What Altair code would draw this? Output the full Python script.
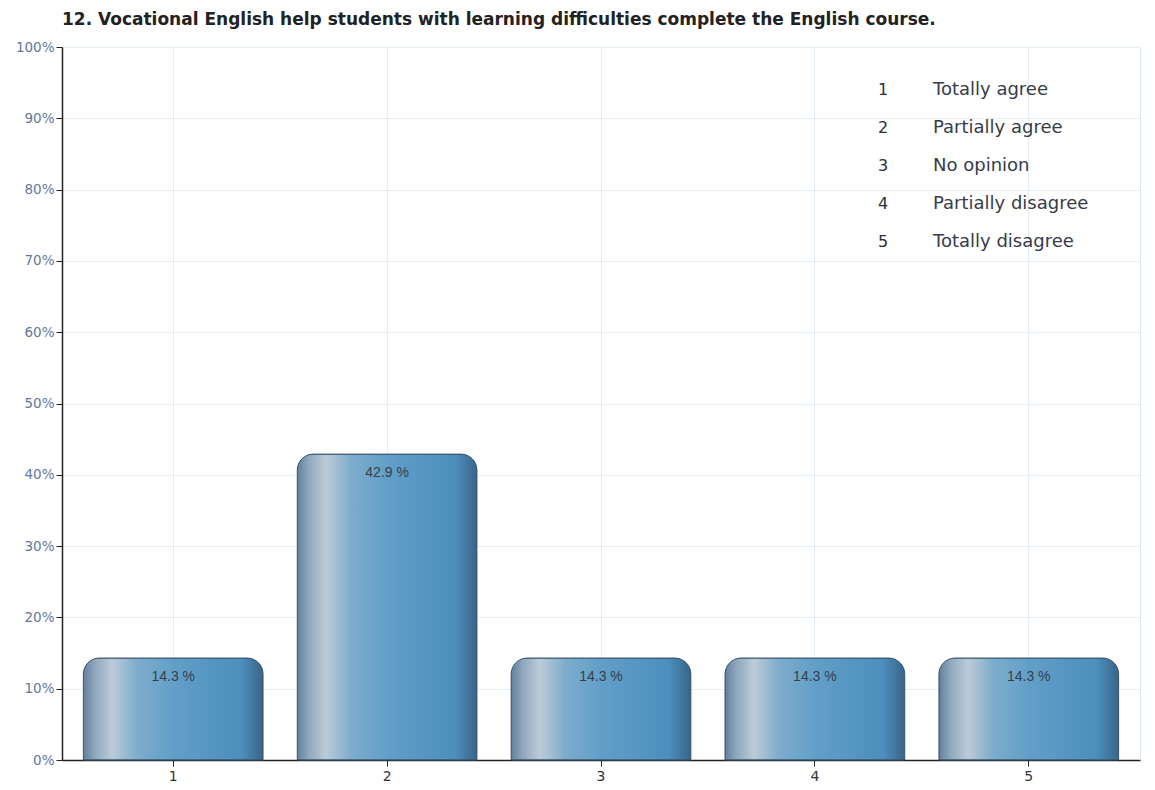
import altair as alt
import pandas as pd

categories = ["1", "2", "3", "4", "5"]
values = [0.143, 0.429, 0.143, 0.143, 0.143]
value_labels = ["14.3 %", "42.9 %", "14.3 %", "14.3 %", "14.3 %"]
legend_codes = ["1", "2", "3", "4", "5"]
legend_texts = ["Totally agree", "Partially agree", "No opinion", "Partially disagree", "Totally disagree"]
title_text = "12. Vocational English help students with learning difficulties complete the English course."

df = pd.DataFrame({"cat": categories, "value": values, "label": value_labels})
leg = pd.DataFrame({"code": legend_codes, "text": legend_texts})

grad = alt.Gradient(
    gradient="linear", x1=0, x2=1, y1=0, y2=0,
    stops=[
        alt.GradientStop(offset=0, color="#637f9b"),
        alt.GradientStop(offset=0.06, color="#8ea6bc"),
        alt.GradientStop(offset=0.16, color="#bccbd8"),
        alt.GradientStop(offset=0.3, color="#7eaccc"),
        alt.GradientStop(offset=0.5, color="#629fc8"),
        alt.GradientStop(offset=0.88, color="#4c8ebd"),
        alt.GradientStop(offset=1, color="#3a6488"),
    ],
)

x_enc = alt.X("cat:N", scale=alt.Scale(paddingInner=0.16, paddingOuter=0.1),
              axis=alt.Axis(title=None, labelAngle=0, labelColor="#333333", labelFontSize=14,
                            labelFont="DejaVu Sans", domainColor="#222222", domainWidth=1.5,
                            tickColor="#222222", tickSize=6, labelPadding=3,
                            grid=True, gridColor="#e4eef6", bandPosition=0.5))
y_enc = alt.Y("value:Q", scale=alt.Scale(domain=[0, 1]),
              axis=alt.Axis(title=None, format=".0%", values=[i / 10 for i in range(11)],
                            labelColor="#62789a", labelFontSize=13.5, labelFont="DejaVu Sans",
                            domainColor="#222222", domainWidth=1.5, tickColor="#222222",
                            tickSize=6, gridColor="#e4eef6", minExtent=49, maxExtent=49))

bars = alt.Chart(df).mark_bar(
    color=grad, stroke="#3b566f", strokeWidth=1,
    cornerRadiusTopLeft=16, cornerRadiusTopRight=16,
).encode(x=x_enc, y=y_enc)

labels = alt.Chart(df).mark_text(
    baseline="middle", dy=19, fontSize=14, font="Liberation Sans", color="#35404b"
).encode(x=alt.X("cat:N"),
         y=alt.Y("value:Q", scale=alt.Scale(domain=[0, 1]), axis=None),
         text="label:N")

leg_scale = alt.Scale(range=[43, 195], padding=0)
leg_codes = alt.Chart(leg).mark_text(
    align="center", baseline="middle", fontSize=16, font="DejaVu Sans", color="#2b2f36"
).encode(x=alt.value(821), y=alt.Y("code:O", scale=leg_scale, axis=None), text="code:N")
leg_text = alt.Chart(leg).mark_text(
    align="left", baseline="middle", fontSize=18, font="DejaVu Sans", color="#353c4a"
).encode(x=alt.value(871), y=alt.Y("code:O", scale=leg_scale, axis=None), text="text:N")

chart = alt.layer(bars, labels, leg_codes, leg_text).resolve_scale(y="independent").properties(
    width=1078, height=713,
    title=alt.TitleParams(title_text, anchor="start", frame="group", fontSize=17,
                          font="DejaVu Sans", fontWeight="bold", color="#222222", offset=11),
    padding={"left": 5, "top": 3, "right": 5, "bottom": 0},
).configure_view(stroke="#dce8f2")

chart.save("out.html", embed_options={"renderer": "svg", "actions": False})
